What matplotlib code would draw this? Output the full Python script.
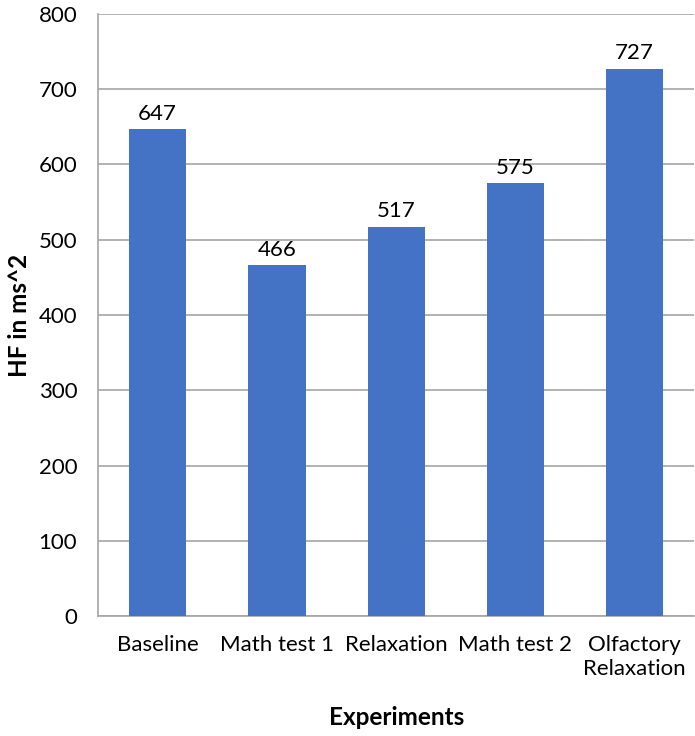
import matplotlib.pyplot as plt

# 數據
experiments = ["Baseline", "Math test 1", "Relaxation", "Math test 2", "Olfactory\nRelaxation"]
hf_values = [647, 466, 517, 575, 727]
y_ticks = [0, 100, 200, 300, 400, 500, 600, 700, 800]

plt.rcParams["font.family"] = ["Lato", "DejaVu Sans"]

fig = plt.figure(figsize=(6.95, 7.36), dpi=100)
ax = fig.add_axes([0.141, 0.163, 0.858, 0.818])

x = range(len(experiments))
bars = ax.bar(x, hf_values, width=0.48, color="#4472C4", zorder=3)
for b, v in zip(bars, hf_values):
    ax.annotate(str(v), (b.get_x() + b.get_width() / 2, v), xytext=(0, 4),
                textcoords="offset points", ha="center", va="bottom", fontsize=16)

ax.set_xlim(-0.5, len(experiments) - 0.5)
ax.set_ylim(0, 800)
ax.set_yticks(y_ticks)
ax.set_xticks(list(x))
ax.set_xticklabels(experiments, fontsize=16, linespacing=1.2)
ax.tick_params(axis="y", labelsize=16, length=0, pad=15)
ax.tick_params(axis="x", length=0, pad=14)
ax.grid(axis="y", color="#a6a6a6", linewidth=1.2, zorder=0)

for side in ["top", "right"]:
    ax.spines[side].set_visible(False)
for side in ["left", "bottom"]:
    ax.spines[side].set_color("#a6a6a6")
    ax.spines[side].set_linewidth(1.2)

ax.set_ylabel("HF in ms^2", fontsize=17.5, fontweight="bold", labelpad=5)
ax.set_xlabel("Experiments", fontsize=17.5, fontweight="bold", labelpad=20)

fig.savefig("out.png", dpi=100)
